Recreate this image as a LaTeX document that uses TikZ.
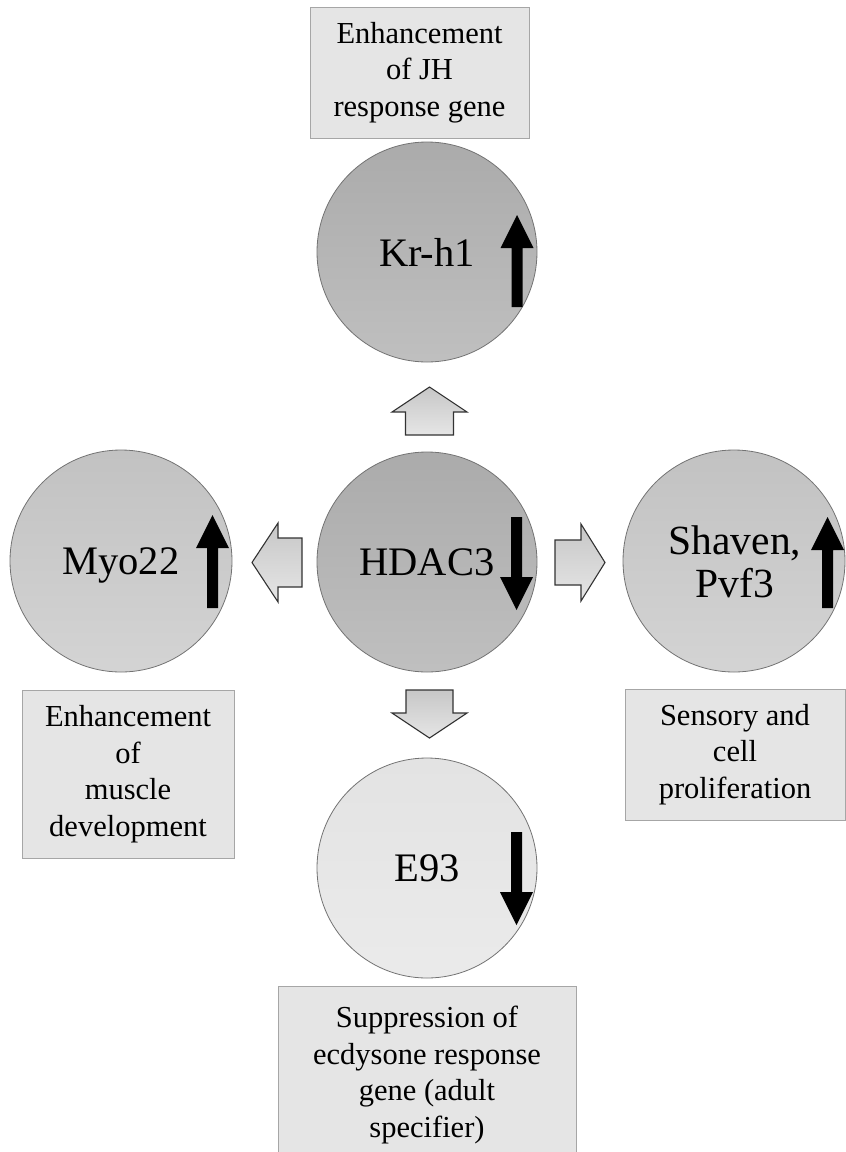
\documentclass[tikz,border=0pt]{standalone}
\usepackage{fontspec}
\setmainfont{Liberation Serif}
\begin{document}
\begin{tikzpicture}[x=1pt,y=-1pt,
  infobox/.style={draw=black!35, fill=black!10, line width=1pt, rectangle,
    inner sep=0pt, align=center, font=\fontsize{30.5}{36.5}\selectfont},
  gene/.style={circle, draw=black!55, line width=0.8pt, inner sep=0pt,
    minimum size=220pt, align=center, text depth=0pt,
    font=\fontsize{40.5}{43}\selectfont, shading=axis},
  darkgene/.style={gene, top color=black!33, bottom color=black!25},
  midgene/.style={gene, top color=black!24, bottom color=black!17},
  lightgene/.style={gene, top color=black!11, bottom color=black!8},
  genelabel/.style={inner sep=0pt, align=center, font=\fontsize{41.5}{43}\selectfont},
  blockarrow/.style={draw=black!80, line width=1.1pt, line join=miter, shading=axis,
    top color=black!22, bottom color=black!10},
  updown/.pic={\fill[black] (0,0) -- (16.5,33) -- (5.5,33) -- (5.5,#1) -- (-5.5,#1) -- (-5.5,33) -- (-16.5,33) -- cycle;}
]
\useasboundingbox (0,0) rectangle (846,1152);

% boxes
\node[infobox, minimum width=219pt, minimum height=131pt] (jhbox) at (419.5,72.5)
  {Enhancement\\of JH\\response gene};
\node[infobox, minimum width=212pt, minimum height=168pt] (musbox) at (128,774)
  {Enhancement\\of\\muscle\\development};
\node[infobox, minimum width=220pt, minimum height=131pt] (senbox) at (735,754.5)
  {Sensory and\\cell\\proliferation};
\node[infobox, minimum width=298pt, minimum height=178pt] (ecdbox) at (427,1075)
  {Suppression of\\ecdysone response\\gene (adult\\specifier)};

% circles
\node[darkgene] (krh1) at (427,252) {Kr-h1};
\node[darkgene] (hdac3) at (427,562) {HDAC3};
\node[midgene, minimum size=222pt] (myo22) at (121,561) {Myo22};
\node[midgene, minimum size=222pt] (shaven) at (734,561) {};
\node[genelabel] (shavenlabel) at ([xshift=1pt,yshift=-1pt]shaven.center) {Shaven,\\Pvf3};
\node[lightgene] (e93) at (427,868) {E93};

% black regulation arrows
\pic at (517,215) {updown=92};
\pic[yscale=-1] at (516.5,610) {updown=93};
\pic at (212.5,515) {updown=93};
\pic at (827.5,517) {updown=91};
\pic[yscale=-1] at (516.5,925) {updown=93};

% block arrows from HDAC3
\coordinate (upT) at (429.5,387);
\coordinate (dnT) at (429.5,738);
\coordinate (lfT) at (252,562.5);
\coordinate (rtT) at (605,562.5);
\draw[blockarrow] (upT) -- ++(37.5,25) -- ++(-13.5,0) -- ++(0,23) -- ++(-48,0) -- ++(0,-23) -- ++(-13.5,0) -- cycle;
\draw[blockarrow] (dnT) -- ++(37.5,-25) -- ++(-14,0) -- ++(0,-23) -- ++(-47,0) -- ++(0,23) -- ++(-14,0) -- cycle;
\draw[blockarrow] (lfT) -- ++(26,-39.5) -- ++(0,15) -- ++(24,0) -- ++(0,49) -- ++(-24,0) -- ++(0,15) -- cycle;
\draw[blockarrow] (rtT) -- ++(-24,-38.5) -- ++(0,16) -- ++(-26,0) -- ++(0,45) -- ++(26,0) -- ++(0,16) -- cycle;
\end{tikzpicture}
\end{document}
